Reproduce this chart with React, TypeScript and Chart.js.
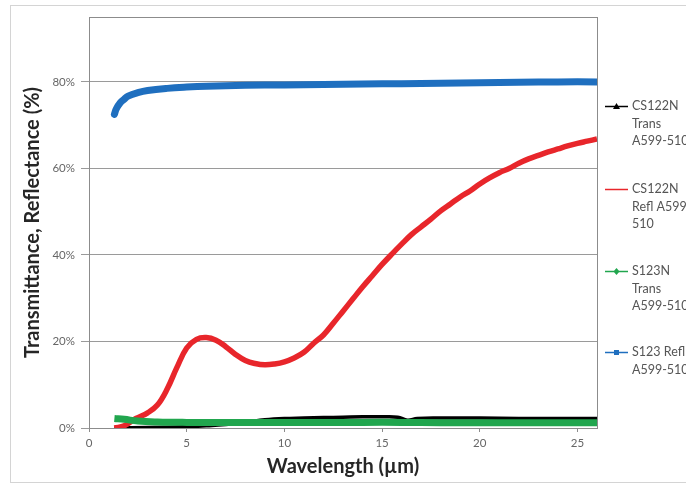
import React, { useEffect, useRef } from "react";
import { Chart, registerables } from "chart.js";

Chart.register(...registerables);

// ---- Data (wavelength in µm, values in %) ----
const blackX = [1.3, 3, 5, 6, 7, 8, 9, 10, 11, 12, 13, 14, 15, 15.8, 16.3, 16.8, 18, 20, 22, 24, 26];
const blackY = [0, 0.1, 0.3, 0.5, 0.8, 1.3, 1.9, 2.2, 2.3, 2.4, 2.5, 2.6, 2.6, 2.5, 1.8, 2.2, 2.3, 2.3, 2.2, 2.2, 2.2];

const redX = [1.3, 1.8, 2.4, 3.0, 3.5, 4.0, 4.5, 5.0, 5.5, 6.0, 6.5, 7.0, 7.5, 8.0, 8.5, 9.0, 9.5, 10.0, 10.5, 11.0, 11.5, 12.0, 12.5, 13.0, 13.5, 14.0, 14.5, 15.0, 15.5, 16.0, 16.5, 17.0, 17.5, 18.0, 18.5, 19.0, 19.5, 20.0, 20.5, 21.0, 21.5, 22.0, 22.5, 23.0, 23.5, 24.0, 24.5, 25.0, 25.5, 26.0];
const redY = [0, 0.5, 2.2, 3.5, 5.3, 9, 14, 18.5, 20.5, 20.9, 20.3, 18.8, 17, 15.6, 14.9, 14.6, 14.8, 15.3, 16.2, 17.5, 19.6, 21.5, 24.2, 27, 29.8, 32.6, 35.2, 37.8, 40.2, 42.5, 44.7, 46.5, 48.3, 50.2, 51.8, 53.4, 54.8, 56.4, 57.8, 59.0, 60.0, 61.2, 62.2, 63.0, 63.8, 64.5, 65.2, 65.8, 66.3, 66.8];

const greenX = [1.3, 1.8, 2.5, 3.5, 5, 6, 8, 10, 12, 14, 16, 18, 20, 22, 24, 26];
const greenY = [2.2, 2.0, 1.6, 1.4, 1.3, 1.3, 1.3, 1.3, 1.3, 1.3, 1.3, 1.2, 1.2, 1.2, 1.2, 1.2];

const blueX = [1.3, 1.4, 1.6, 1.8, 2.0, 2.5, 3, 4, 5, 6, 8, 10, 12, 14, 16, 18, 20, 22, 24, 26];
const blueY = [72.5, 73.8, 75.2, 76.0, 76.7, 77.5, 78.0, 78.5, 78.8, 79.0, 79.2, 79.3, 79.4, 79.5, 79.6, 79.7, 79.8, 79.9, 80.0, 80.0];

const seriesNames = [
  ["CS122N", "Trans", "A599-510"],
  ["CS122N", "Refl A599-", "510"],
  ["S123N", "Trans", "A599-510"],
  ["S123 Refl", "A599-510"],
];
const seriesColors = ["#000000", "#e8262b", "#21a64e", "#1f6fbf"];

const yTicks = [0, 20, 40, 60, 80];
const xTicks = [0, 5, 10, 15, 20, 25];

const FONT = "Lato, 'Open Sans', sans-serif";

const pts = (xs: number[], ys: number[]) => xs.map((x, i) => ({ x, y: ys[i] }));

const framePlugin = {
  id: "frame",
  beforeDraw(chart: any) {
    const { ctx, width, height } = chart;
    ctx.save();
    ctx.fillStyle = "#ffffff";
    ctx.fillRect(0, 0, width, height);
    ctx.strokeStyle = "#d4d4d4";
    ctx.lineWidth = 1;
    ctx.strokeRect(10.5, 5.5, width + 20, 477);
    ctx.restore();
  },
  beforeDatasetsDraw(chart: any) {
    const { ctx, chartArea: a } = chart;
    ctx.save();
    ctx.strokeStyle = "#8c8c8c";
    ctx.lineWidth = 1;
    ctx.strokeRect(Math.round(a.left) + 0.5, Math.round(a.top) + 0.5, Math.round(a.right - a.left), Math.round(a.bottom - a.top));
    ctx.restore();
  },
  afterDraw(chart: any) {
    const { ctx } = chart;
    ctx.save();
    const startYs = [106, 189, 271, 352];
    const lh = 17.5;
    seriesNames.forEach((lines, i) => {
      const y = startYs[i];
      ctx.strokeStyle = seriesColors[i];
      ctx.lineWidth = 1.5;
      ctx.beginPath();
      ctx.moveTo(605, y + 0.5);
      ctx.lineTo(628, y + 0.5);
      ctx.stroke();
      ctx.fillStyle = seriesColors[i];
      ctx.beginPath();
      if (i === 0) {
        ctx.moveTo(616.5, y - 3);
        ctx.lineTo(620, y + 3);
        ctx.lineTo(613, y + 3);
        ctx.closePath();
        ctx.fill();
      } else if (i === 2) {
        ctx.moveTo(616.5, y - 3);
        ctx.lineTo(619.5, y + 0.5);
        ctx.lineTo(616.5, y + 4);
        ctx.lineTo(613.5, y + 0.5);
        ctx.closePath();
        ctx.fill();
      } else if (i === 3) {
        ctx.rect(614, y - 2, 5, 5);
        ctx.fill();
      }
      ctx.fillStyle = "#555555";
      ctx.font = `12.5px ${FONT}`;
      ctx.textBaseline = "middle";
      ctx.textAlign = "left";
      lines.forEach((t, j) => ctx.fillText(t, 632, y + j * lh));
    });
    ctx.restore();
  },
};

export default function App() {
  const ref = useRef<HTMLCanvasElement | null>(null);
  useEffect(() => {
    if (!ref.current) return;
    const chart = new Chart(ref.current, {
      type: "line",
      data: {
        datasets: [
          { label: "CS122N Trans A599-510", data: pts(blackX, blackY), borderColor: seriesColors[0], borderWidth: 3.5, pointRadius: 0, tension: 0.4, order: 4 },
          { label: "CS122N Refl A599-510", data: pts(redX, redY), borderColor: seriesColors[1], borderWidth: 5.5, pointRadius: 0, tension: 0.4, order: 3 },
          { label: "S123N Trans A599-510", data: pts(greenX, greenY), borderColor: seriesColors[2], borderWidth: 7, pointRadius: 0, tension: 0.4, order: 2 },
          { label: "S123 Refl A599-510", data: pts(blueX, blueY), borderColor: seriesColors[3], borderWidth: 7, pointRadius: 0, tension: 0.4, order: 1, borderCapStyle: "round" },
        ],
      },
      options: {
        animation: false,
        responsive: false,
        maintainAspectRatio: false,
        layout: { padding: { left: 0, top: 17, right: 89, bottom: 0 } },
        plugins: { legend: { display: false }, tooltip: { enabled: false } },
        scales: {
          x: {
            type: "linear",
            min: 0,
            max: 26,
            afterFit: (s: any) => { s.height = 60; },
            afterBuildTicks: (s: any) => { s.ticks = xTicks.map((v) => ({ value: v })); },
            grid: { display: true, drawOnChartArea: false, drawTicks: true, tickLength: 4, color: "#8c8c8c" },
            border: { display: false },
            ticks: { color: "#666666", font: { family: FONT, size: 11.5 }, padding: 4, maxRotation: 0 },
            title: { display: true, text: "Wavelength (µm)", color: "#262626", font: { family: FONT, size: 20, weight: "bold" }, padding: { top: 0, bottom: 9 } },
          },
          y: {
            type: "linear",
            min: 0,
            max: 95,
            afterFit: (s: any) => { s.width = 89; },
            afterBuildTicks: (s: any) => { s.ticks = yTicks.map((v) => ({ value: v })); },
            grid: { color: "#9a9a9a", tickLength: 8, lineWidth: 1 },
            border: { display: false },
            ticks: { color: "#666666", font: { family: FONT, size: 11.5 }, padding: 6, callback: (v: any) => `${v}%` },
            title: { display: true, text: "Transmittance, Reflectance (%)", color: "#262626", font: { family: FONT, size: 20, weight: "bold" }, padding: { top: 21, bottom: 0 } },
          },
        },
      },
      plugins: [framePlugin],
    });
    return () => chart.destroy();
  }, []);
  return (
    <div style={{ position: "absolute", left: 0, top: 0, width: 686, height: 488 }}>
      <canvas ref={ref} width={686} height={488} style={{ display: "block", width: 686, height: 488 }} />
    </div>
  );
}
